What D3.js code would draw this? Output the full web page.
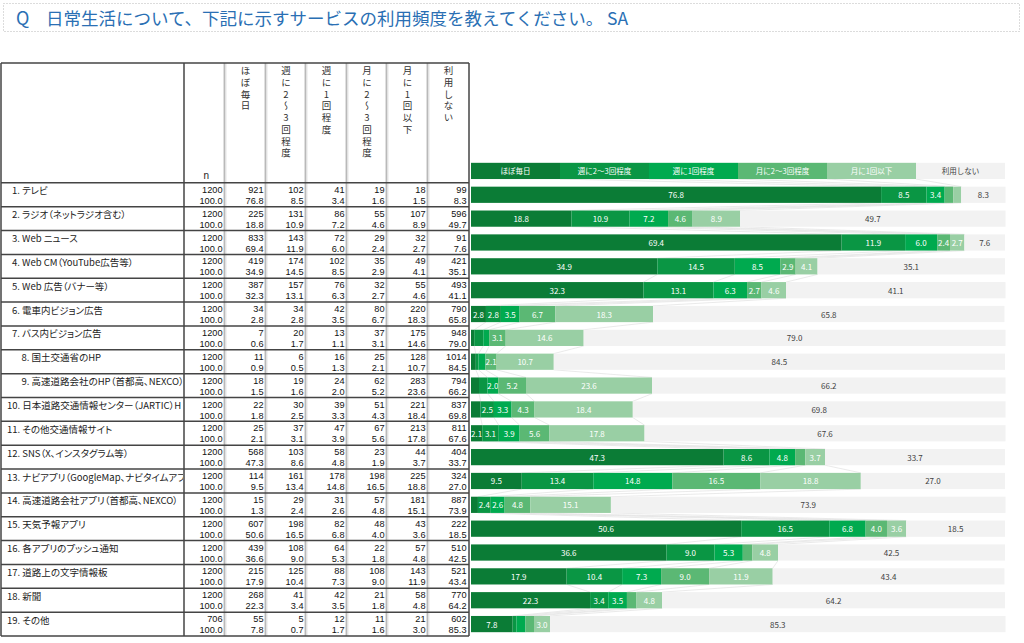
<!DOCTYPE html>
<html>
<head>
<meta charset="utf-8">
<script src="https://cdn.jsdelivr.net/npm/d3@7"></script>
<style>
  body { margin: 0; background: #fff; }
  svg { display: block; }
  .palt { font-feature-settings: "palt"; }
  .vhead { writing-mode: vertical-rl; text-orientation: upright; }
</style>
</head>
<body>
<script>
// Chart values
const titleQ = "Q";
const titleText = "日常生活について、下記に示すサービスの利用頻度を教えてください。 SA";

const seriesNames = ["ほぼ毎日", "週に2〜3回程度", "週に1回程度", "月に2〜3回程度", "月に1回以下", "利用しない"];

const categories = [
    "1. テレビ",
    "2. ラジオ（ネットラジオ含む）",
    "3. Web ニュース",
    "4. Web CM（YouTube広告等）",
    "5. Web 広告（バナー等）",
    "6. 電車内ビジョン広告",
    "7. バス内ビジョン広告",
    "　8. 国土交通省のHP",
    "　9. 高速道路会社のHP（首都高、NEXCO）",
    "10. 日本道路交通情報センター（JARTIC）HP",
    "11. その他交通情報サイト",
    "12. SNS（X、インスタグラム等）",
    "13. ナビアプリ（GoogleMap、ナビタイムアプリ等）",
    "14. 高速道路会社アプリ（首都高、NEXCO）",
    "15. 天気予報アプリ",
    "16. 各アプリのプッシュ通知",
    "17. 道路上の文字情報板",
    "18. 新聞",
    "19. その他"
];

const nTotal     = [1200, 1200, 1200, 1200, 1200, 1200, 1200, 1200, 1200, 1200, 1200, 1200, 1200, 1200, 1200, 1200, 1200, 1200, 706];
const cntDaily   = [921, 225, 833, 419, 387, 34, 7, 11, 18, 22, 25, 568, 114, 15, 607, 439, 215, 268, 55];
const cntWeek23  = [102, 131, 143, 174, 157, 34, 20, 6, 19, 30, 37, 103, 161, 29, 198, 108, 125, 41, 5];
const cntWeek1   = [41, 86, 72, 102, 76, 42, 13, 16, 24, 39, 47, 58, 178, 31, 82, 64, 88, 42, 12];
const cntMonth23 = [19, 55, 29, 35, 32, 80, 37, 25, 62, 51, 67, 23, 198, 57, 48, 22, 108, 21, 11];
const cntMonth1  = [18, 107, 32, 49, 55, 220, 175, 128, 283, 221, 213, 44, 225, 181, 43, 57, 143, 58, 21];
const cntNone    = [99, 596, 91, 421, 493, 790, 948, 1014, 794, 837, 811, 404, 324, 887, 222, 510, 521, 770, 602];

const pctDaily   = [76.8, 18.8, 69.4, 34.9, 32.3, 2.8, 0.6, 0.9, 1.5, 1.8, 2.1, 47.3, 9.5, 1.3, 50.6, 36.6, 17.9, 22.3, 7.8];
const pctWeek23  = [8.5, 10.9, 11.9, 14.5, 13.1, 2.8, 1.7, 0.5, 1.6, 2.5, 3.1, 8.6, 13.4, 2.4, 16.5, 9.0, 10.4, 3.4, 0.7];
const pctWeek1   = [3.4, 7.2, 6.0, 8.5, 6.3, 3.5, 1.1, 1.3, 2.0, 3.3, 3.9, 4.8, 14.8, 2.6, 6.8, 5.3, 7.3, 3.5, 1.7];
const pctMonth23 = [1.6, 4.6, 2.4, 2.9, 2.7, 6.7, 3.1, 2.1, 5.2, 4.3, 5.6, 1.9, 16.5, 4.8, 4.0, 1.8, 9.0, 1.8, 1.6];
const pctMonth1  = [1.5, 8.9, 2.7, 4.1, 4.6, 18.3, 14.6, 10.7, 23.6, 18.4, 17.8, 3.7, 18.8, 15.1, 3.6, 4.8, 11.9, 4.8, 3.0];
const pctNone    = [8.3, 49.7, 7.6, 35.1, 41.1, 65.8, 79.0, 84.5, 66.2, 69.8, 67.6, 33.7, 27.0, 73.9, 18.5, 42.5, 43.4, 64.2, 85.3];

const seriesColors = ["#0b7c36", "#0a9644", "#00aa4f", "#5bb874", "#99cfa4", "#f2f2f2"];

// Build the tables used by the drawing code
const countCols = [cntDaily, cntWeek23, cntWeek1, cntMonth23, cntMonth1, cntNone];
const pctCols = [pctDaily, pctWeek23, pctWeek1, pctMonth23, pctMonth1, pctNone];
const rows = categories.map((c, i) => {
    const r = { cat: c, n: nTotal[i] };
    seriesNames.forEach((s, k) => { r[s] = pctCols[k][i]; r["cnt_" + s] = countCols[k][i]; });
    return r;
});

const width = 1024, height = 643;
const svg = d3.select("body").append("svg")
    .attr("width", width)
    .attr("height", height);

const jpFont = "'Noto Sans CJK JP', 'Noto Sans', sans-serif";
const numFont = "'Liberation Sans', Arial, sans-serif";

// Title with dotted frame
svg.append("rect")
    .attr("x", 3.5).attr("y", 3.5)
    .attr("width", 1016).attr("height", 28)
    .attr("fill", "none")
    .attr("stroke", "#b8b8b8")
    .attr("stroke-dasharray", "1,2");
svg.append("text")
    .attr("x", 16).attr("y", 25)
    .attr("font-family", jpFont)
    .attr("font-size", 18)
    .attr("fill", "#2a6fb4")
    .text(titleQ);
svg.append("text")
    .attr("x", 46).attr("y", 25)
    .attr("font-family", jpFont)
    .attr("font-size", 17.5)
    .attr("fill", "#2a6fb4")
    .attr("xml:space", "preserve")
    .style("white-space", "pre")
    .text(titleText);

// Scales shared by the table rows and the bars
const y = d3.scaleBand()
    .domain(["__legend"].concat(categories))
    .range([159, 636])
    .paddingInner(0.32)
    .paddingOuter(0.16);
const x = d3.scaleLinear().domain([0, 100]).range([471, 1005]);

const rowTop = c => y(c) + y.bandwidth() / 2 - y.step() / 2;

// ---------- Table ----------
const colEdges = [1, 184, 225, 266, 306, 347, 387, 428, 469];
const tableTop = 63, headTop = rowTop(categories[0]);
const tableBottom = rowTop(categories[categories.length - 1]) + y.step();

const table = svg.append("g");

// header: "n" and the vertical column titles
table.append("text")
    .attr("x", (colEdges[1] + colEdges[2]) / 2 - 1)
    .attr("y", headTop - 4)
    .attr("font-family", numFont)
    .attr("font-size", 10)
    .attr("fill", "#222")
    .text("n");

table.selectAll("text.vhead")
    .data(seriesNames)
    .join("text")
    .attr("class", "vhead")
    .attr("x", (d, k) => (colEdges[k + 2] + colEdges[k + 3]) / 2)
    .attr("y", tableTop + 3)
    .attr("font-family", jpFont)
    .attr("font-size", 9.5)
    .attr("letter-spacing", 2.2)
    .attr("fill", "#333")
    .text(d => d);

// row contents
const labelClip = svg.append("defs").append("clipPath").attr("id", "labelClip");
labelClip.append("rect").attr("x", 0).attr("y", 0).attr("width", colEdges[1] - 1).attr("height", height);

const rowG = table.selectAll("g.row")
    .data(rows)
    .join("g")
    .attr("class", "row")
    .attr("transform", d => `translate(0, ${rowTop(d.cat)})`);

rowG.append("text")
    .attr("class", "palt")
    .attr("clip-path", "url(#labelClip)")
    .attr("x", (d, i) => i < 9 ? 12 : 7)
    .attr("y", 7.5)
    .attr("dominant-baseline", "central")
    .attr("font-family", jpFont)
    .attr("font-size", 9.5)
    .attr("fill", "#222")
    .attr("xml:space", "preserve")
    .style("white-space", "pre")
    .text(d => d.cat)
    .each(function () {
        // labels wider than the first column are cut at its border
        const node = this, x0 = +node.getAttribute("x");
        let s = node.textContent;
        while (s.length > 1 && x0 + node.getComputedTextLength() > colEdges[1] + 3) {
            s = s.slice(0, -1);
            node.textContent = s;
        }
    });

const numCols = [{ cnt: d => d.n, pct: d => 100 }].concat(
    seriesNames.map(s => ({ cnt: d => d["cnt_" + s], pct: d => d[s] })));

numCols.forEach((col, k) => {
    const xr = colEdges[k + 2] - 2.5;
    rowG.append("text")
        .attr("x", xr).attr("y", 7)
        .attr("text-anchor", "end")
        .attr("dominant-baseline", "central")
        .attr("font-family", numFont)
        .attr("font-size", 9.2)
        .attr("fill", "#111")
        .text(d => col.cnt(d));
    rowG.append("text")
        .attr("x", xr).attr("y", 18)
        .attr("text-anchor", "end")
        .attr("dominant-baseline", "central")
        .attr("font-family", numFont)
        .attr("font-size", 9.2)
        .attr("fill", "#111")
        .text(d => d3.format(".1f")(col.pct(d)));
});

// grid lines
colEdges.forEach((cx, k) => {
    if (k === 0 || k === 1 || k === colEdges.length - 1) {
        table.append("line")
            .attr("x1", cx).attr("x2", cx)
            .attr("y1", tableTop).attr("y2", tableBottom)
            .attr("stroke", "#444").attr("stroke-width", 1.5);
    } else {
        table.append("line")
            .attr("x1", cx - 0.8).attr("x2", cx - 0.8)
            .attr("y1", tableTop).attr("y2", tableBottom)
            .attr("stroke", "#9a9a9a").attr("stroke-width", 1);
        table.append("line")
            .attr("x1", cx + 0.8).attr("x2", cx + 0.8)
            .attr("y1", tableTop).attr("y2", tableBottom)
            .attr("stroke", "#d4d4d4").attr("stroke-width", 1);
    }
});
[tableTop, headTop].concat(categories.map(c => rowTop(c) + y.step())).forEach(yy => {
    table.append("line")
        .attr("x1", colEdges[0]).attr("x2", colEdges[colEdges.length - 1])
        .attr("y1", yy).attr("y2", yy)
        .attr("stroke", "#444").attr("stroke-width", 1.5);
});

// ---------- Stacked bars ----------
const stack = d3.stack().keys(seriesNames);
const stacked = stack(rows);

// legend row drawn as a bar of six equal boxes
const legendScale = d3.scaleBand().domain(seriesNames).range(x.range());
const chart = svg.append("g");

// faint series lines between consecutive bars
const cumRows = [seriesNames.map((s, k) => (k + 1) * 100 / seriesNames.length)]
    .concat(rows.map((r, i) => seriesNames.map((s, k) => stacked[k][i][1])));
const yKeys = ["__legend"].concat(categories);
for (let i = 0; i < yKeys.length - 1; i++) {
    for (let k = 0; k < seriesNames.length - 1; k++) {
        chart.append("line")
            .attr("x1", x(cumRows[i][k])).attr("y1", y(yKeys[i]) + y.bandwidth())
            .attr("x2", x(cumRows[i + 1][k])).attr("y2", y(yKeys[i + 1]))
            .attr("stroke", "#e4e4e4")
            .attr("stroke-width", 0.8);
    }
}

chart.selectAll("rect.legend")
    .data(seriesNames)
    .join("rect")
    .attr("class", "legend")
    .attr("x", d => legendScale(d))
    .attr("y", y("__legend"))
    .attr("width", legendScale.bandwidth())
    .attr("height", y.bandwidth())
    .attr("fill", (d, k) => seriesColors[k]);

chart.selectAll("text.legend")
    .data(seriesNames)
    .join("text")
    .attr("class", "legend")
    .attr("x", d => legendScale(d) + legendScale.bandwidth() / 2)
    .attr("y", y("__legend") + y.bandwidth() / 2)
    .attr("text-anchor", "middle")
    .attr("dominant-baseline", "central")
    .attr("font-family", jpFont)
    .attr("font-size", 7.5)
    .attr("fill", (d, k) => k < 5 ? "#fff" : "#404040")
    .text(d => d);

const layer = chart.selectAll("g.layer")
    .data(stacked)
    .join("g")
    .attr("class", "layer")
    .attr("fill", (d, k) => seriesColors[k]);

layer.selectAll("rect")
    .data(d => d)
    .join("rect")
    .attr("x", d => x(d[0]))
    .attr("y", d => y(d.data.cat))
    .attr("width", d => x(d[1]) - x(d[0]))
    .attr("height", y.bandwidth());

// value labels, small segments left unlabeled
layer.selectAll("text")
    .data((d, k) => d.map(p => ({ p, k, v: p.data[seriesNames[k]] })))
    .join("text")
    .filter(d => d.v >= 2)
    .attr("x", d => (x(d.p[0]) + x(d.p[1])) / 2)
    .attr("y", d => y(d.p.data.cat) + y.bandwidth() / 2)
    .attr("text-anchor", "middle")
    .attr("dominant-baseline", "central")
    .attr("font-family", jpFont)
    .attr("font-size", 8)
    .attr("fill", d => d.k < 5 ? "#fff" : "#404040")
    .text(d => d3.format(".1f")(d.v));
</script>
</body>
</html>
